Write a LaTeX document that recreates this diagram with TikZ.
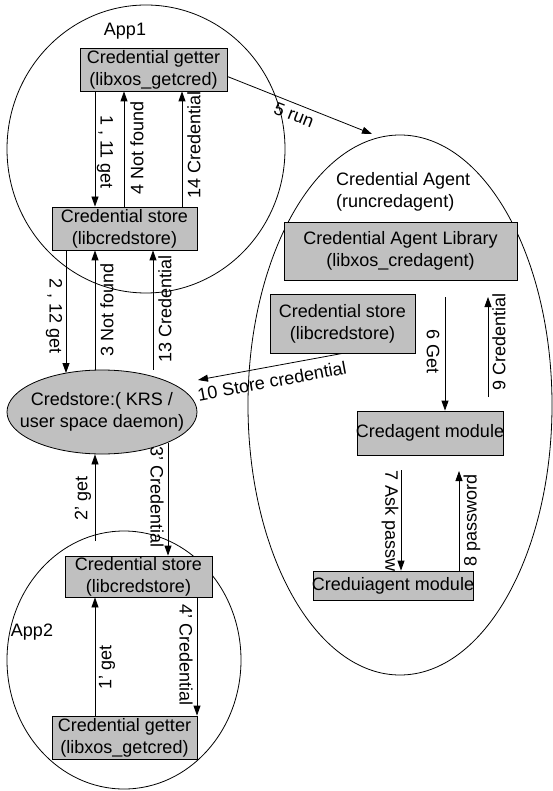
\documentclass[tikz,border=0pt]{standalone}
\usepackage{fontspec}
\setmainfont{Liberation Sans}
\usetikzlibrary{arrows.meta,shapes.geometric,calc}
\definecolor{boxgray}{RGB}{192,192,192}
\begin{document}
\begin{tikzpicture}[x=1pt,y=-1pt,
  every node/.style={font=\fontsize{18}{22}\selectfont, inner sep=0pt},
  box/.style={draw, fill=boxgray, line width=0.8pt, align=center},
  arr/.style={line width=0.8pt, -{Triangle[length=10pt,width=7pt]}},
  grp/.style={draw, ellipse, line width=0.8pt}]
\useasboundingbox (0,0) rectangle (553,791);
% groups
\node[grp, minimum width=278pt, minimum height=288pt] (app1) at (146,149) {};
\node[grp, minimum width=234pt, minimum height=258pt] (app2) at (124,660) {};
\node[grp, minimum width=304pt, minimum height=540pt] (agent) at (400,405) {};
\node[grp, fill=boxgray, minimum width=190pt, minimum height=84pt] (credstore) at (102,412) {};
\node[align=center] (credtext) at (102,412) {Credstore:( KRS /\\user space daemon)};
% titles
\node (app1lbl) at (125,31) {App1};
\node (app2lbl) at (32,632) {App2};
\node[anchor=west, align=left] (agentlbl) at (336,192) {Credential Agent\\(runcredagent)};
% boxes
\node[box, minimum width=147pt, minimum height=43pt] (getter1) at (153.5,69.5) {Credential getter\\(libxos\_getcred)};
\node[box, minimum width=145pt, minimum height=43pt] (store1) at (124.5,228.5) {Credential store\\(libcredstore)};
\node[box, minimum width=147pt, minimum height=41pt] (store2) at (138.5,576.5) {Credential store\\(libcredstore)};
\node[box, minimum width=145pt, minimum height=43pt] (getter2) at (124.5,737.5) {Credential getter\\(libxos\_getcred)};
\node[box, minimum width=233pt, minimum height=58pt] (lib) at (400.5,251) {Credential Agent Library\\(libxos\_credagent)};
\node[box, minimum width=145pt, minimum height=59pt] (store3) at (342.5,323.5) {Credential store\\(libcredstore)};
\node[box, minimum width=146pt, minimum height=44pt] (credagent) at (430,433) {\makebox[0pt]{Credagent module}};
\node[box, minimum width=160pt, minimum height=29pt] (credui) at (393,585.5) {\makebox[0pt]{Creduiagent module}};
% columns
\coordinate (c66) at (66,0);
\coordinate (c95) at (95,0);
\coordinate (c124) at (124,0);
\coordinate (c153) at (153,0);
\coordinate (c168) at (168,0);
\coordinate (c182) at (182,0);
\coordinate (c197) at (197,0);
\coordinate (g2s) at (95,541);
\coordinate (runend) at (372,134);
\coordinate (storetip) at (198,380);
\coordinate (getstart) at (445,297);
\coordinate (credtop) at (488,297);
\coordinate (credbot) at (488,397);
\coordinate (askstart) at (401,470);
\coordinate (pwtip) at (459,471);
% connectors
\draw[arr] (getter1.south -| c95) -- (store1.north -| c95);
\draw[arr] (store1.north -| c124) -- (getter1.south -| c124);
\draw[arr] (store1.north -| c182) -- (getter1.south -| c182);
\draw[arr] (store1.south -| c66) -- (c66 |- credstore.134);
\draw[arr] (c95 |- credstore.north) -- (store1.south -| c95);
\draw[arr] (c153 |- credstore.north) -- (store1.south -| c153);
\draw[arr] (c168 |- credstore.-25) -- (store2.north -| c168);
\draw[arr] (g2s) -- (c95 |- credstore.south);
\draw[arr] (getter2.north -| c95) -- (store2.south -| c95);
\draw[arr] (store2.south -| c197) -- (getter2.north -| c197);
\draw[arr] ($(getter1.east)+(0,7)$) -- (runend);
\draw[arr] (store3.south) -- (storetip);
\draw[arr] (getstart) -- (credagent.north -| getstart);
\draw[arr] (credbot) -- (credtop);
\draw[arr] (askstart) -- (credui.north -| askstart);
\draw[arr] (credui.north -| pwtip) -- (pwtip);
% labels
\node[rotate=-90] (l1) at (105,152) {1 , 11 get};
\node[rotate=90] (l4) at (137,148) {4 Not found};
\node[rotate=90] (l14) at (194,145) {14 Credential};
\node[rotate=-90] (l2) at (54,316) {2 , 12 get};
\node[rotate=90] (l3) at (107,310) {3 Not found};
\node[rotate=90] (l13) at (165,309) {13 Credential};
\node[rotate=90] (l2p) at (83,498) {2' get};
\node[rotate=-90] (l3p) at (157,497) {3' Credential};
\node[rotate=90] (l1p) at (107,667) {1' get};
\node[rotate=-90] (l4p) at (186,655) {4' Credential};
\node[rotate=-90] (l6) at (433,352) {6 Get};
\node[rotate=90] (l9) at (499,342) {9 Credential};
\node[rotate=-90] (l7) at (390,521) {7 Ask passw};
\node[rotate=90] (l8) at (472,520) {8 password};
\node[rotate=-21] (l5) at (294,115) {5 run};
\node[rotate=10.5] (l10) at (272,381) {10 Store credential};
\end{tikzpicture}
\end{document}
